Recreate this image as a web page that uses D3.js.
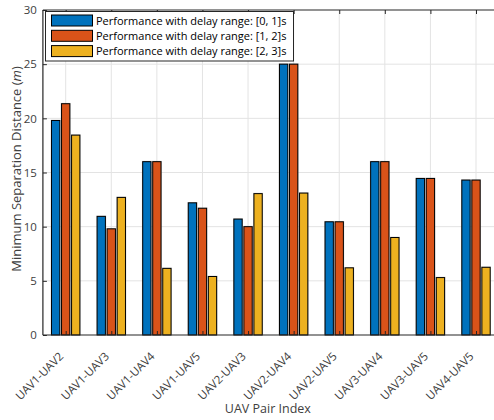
<!DOCTYPE html>
<html>
<head>
<meta charset="utf-8">
<script src="https://cdn.jsdelivr.net/npm/d3@7/dist/d3.min.js"></script>
<style>
  html, body { margin: 0; padding: 0; background: #fff; }
  svg { display: block; font-family: "Open Sans", "Noto Sans", sans-serif; }
</style>
</head>
<body>
<svg id="chart" width="494" height="420"></svg>
<script>
// UAV pairs along the x axis
const categories = ["UAV1-UAV2", "UAV1-UAV3", "UAV1-UAV4", "UAV1-UAV5", "UAV2-UAV3",
                    "UAV2-UAV4", "UAV2-UAV5", "UAV3-UAV4", "UAV3-UAV5", "UAV4-UAV5"];

// Minimum separation distance (m) for each delay range
const delay01 = [19.8, 10.95, 16.0, 12.2, 10.7, 25.0, 10.45, 16.0, 14.45, 14.3];
const delay12 = [21.35, 9.8, 16.0, 11.7, 10.0, 25.0, 10.45, 16.0, 14.45, 14.3];
const delay23 = [18.45, 12.7, 6.15, 5.4, 13.05, 13.1, 6.2, 9.0, 5.3, 6.25];

const seriesNames = ["Performance with delay range: [0, 1]s",
                     "Performance with delay range: [1, 2]s",
                     "Performance with delay range: [2, 3]s"];
const seriesColors = ["#0072BD", "#D95319", "#EDB120"];
const yTicks = [0, 5, 10, 15, 20, 25, 30];

const series = [delay01, delay12, delay23];

const svg = d3.select("#chart");
const plotL = 42.9, plotR = 498.8, plotT = 10, plotB = 335;

const x = d3.scaleLinear().domain([0.5, categories.length + 0.5]).range([plotL, plotR]);
const y = d3.scaleLinear().domain([0, 30]).range([plotB, plotT]);

const gridColor = "#e3e3e3";
const axisColor = "#262626";
const textColor = "#404040";

// grid lines
const grid = svg.append("g");
grid.selectAll("line.v").data(categories).join("line")
  .attr("x1", (d, i) => x(i + 1)).attr("x2", (d, i) => x(i + 1))
  .attr("y1", plotT).attr("y2", plotB)
  .attr("stroke", gridColor).attr("stroke-width", 1);
grid.selectAll("line.h").data(yTicks.slice(1, -1)).join("line")
  .attr("x1", plotL).attr("x2", plotR)
  .attr("y1", d => y(d)).attr("y2", d => y(d))
  .attr("stroke", gridColor).attr("stroke-width", 1);

// grouped bars
const pitch = 0.22, barW = 0.182;
const bars = svg.append("g");
series.forEach((vals, s) => {
  const off = (s - 1) * pitch;
  const g = bars.append("g");
  // soft halo around each bar
  g.selectAll("rect.halo").data(vals).join("rect")
    .attr("x", (d, i) => x(i + 1 + off - barW / 2) - 0.8)
    .attr("width", x(barW) - x(0) + 1.6)
    .attr("y", d => y(d) - 0.8)
    .attr("height", d => y(0) - y(d) + 0.8)
    .attr("fill", "#9a9a9a").attr("opacity", 0.55);
  g.selectAll("rect.bar").data(vals).join("rect")
    .attr("x", (d, i) => x(i + 1 + off - barW / 2))
    .attr("width", x(barW) - x(0))
    .attr("y", d => y(d))
    .attr("height", d => y(0) - y(d))
    .attr("fill", seriesColors[s])
    .attr("stroke", "#000").attr("stroke-width", 1);
});

// axes box and ticks
const xAxisB = d3.axisBottom(x).tickValues(d3.range(1, categories.length + 1)).tickSize(-4).tickFormat("");
const xAxisT = d3.axisTop(x).tickValues(d3.range(1, categories.length + 1)).tickSize(-4).tickFormat("");
const yAxisL = d3.axisLeft(y).tickValues(yTicks).tickSize(-4).tickPadding(6);
const yAxisR = d3.axisRight(y).tickValues(yTicks).tickSize(-4).tickFormat("");

function style(g) {
  g.selectAll("path.domain").attr("stroke", axisColor).attr("stroke-width", 1.2);
  g.selectAll(".tick line").attr("stroke", axisColor).attr("stroke-width", 1);
  g.selectAll(".tick text").attr("fill", textColor).attr("font-size", 11.5)
    .attr("font-family", "Open Sans, sans-serif");
}
svg.append("g").attr("transform", `translate(0,${plotB})`).call(xAxisB).call(style)
  .select("path.domain").attr("d", `M${plotL},0H${plotR}`);
svg.append("g").attr("transform", `translate(0,${plotT})`).call(xAxisT).call(style)
  .select("path.domain").attr("d", `M${plotL},0H${plotR}`);
svg.append("g").attr("transform", `translate(${plotL},0)`).call(yAxisL).call(style)
  .select("path.domain").attr("d", `M0,${plotT}V${plotB}`);
svg.append("g").attr("transform", `translate(${plotR},0)`).call(yAxisR).call(style)
  .select("path.domain").attr("d", `M0,${plotT}V${plotB}`);

// rotated category labels
svg.append("g").selectAll("text").data(categories).join("text")
  .attr("transform", (d, i) => `translate(${x(i + 1) - 1.5},${plotB + 22}) rotate(-45)`)
  .attr("text-anchor", "end")
  .attr("font-size", 11.5).attr("fill", textColor)
  .text(d => d);

// axis titles
svg.append("text").attr("x", (plotL + plotR) / 2 - 3).attr("y", 413)
  .attr("text-anchor", "middle").attr("font-size", 12.5).attr("fill", textColor)
  .text("UAV Pair Index");
const yl = svg.append("text")
  .attr("transform", `translate(20.5,169) rotate(-90)`)
  .attr("text-anchor", "middle").attr("font-size", 13).attr("fill", textColor);
yl.append("tspan").text("Minimum Separation Distance (");
yl.append("tspan").attr("font-style", "italic").text("m");
yl.append("tspan").text(")");

// legend
const lg = svg.append("g");
lg.append("rect").attr("x", 45.5).attr("y", 11.5).attr("width", 248).attr("height", 49.5)
  .attr("fill", "#fff").attr("stroke", axisColor).attr("stroke-width", 1);
seriesNames.forEach((name, s) => {
  const yy = 15 + s * 15.3;
  lg.append("rect").attr("x", 51.5).attr("y", yy).attr("width", 41).attr("height", 11)
    .attr("fill", seriesColors[s]).attr("stroke", "#000").attr("stroke-width", 1);
  lg.append("text").attr("x", 96).attr("y", yy + 9.5)
    .attr("font-size", 11).attr("fill", "#000").text(name);
});
</script>
</body>
</html>
